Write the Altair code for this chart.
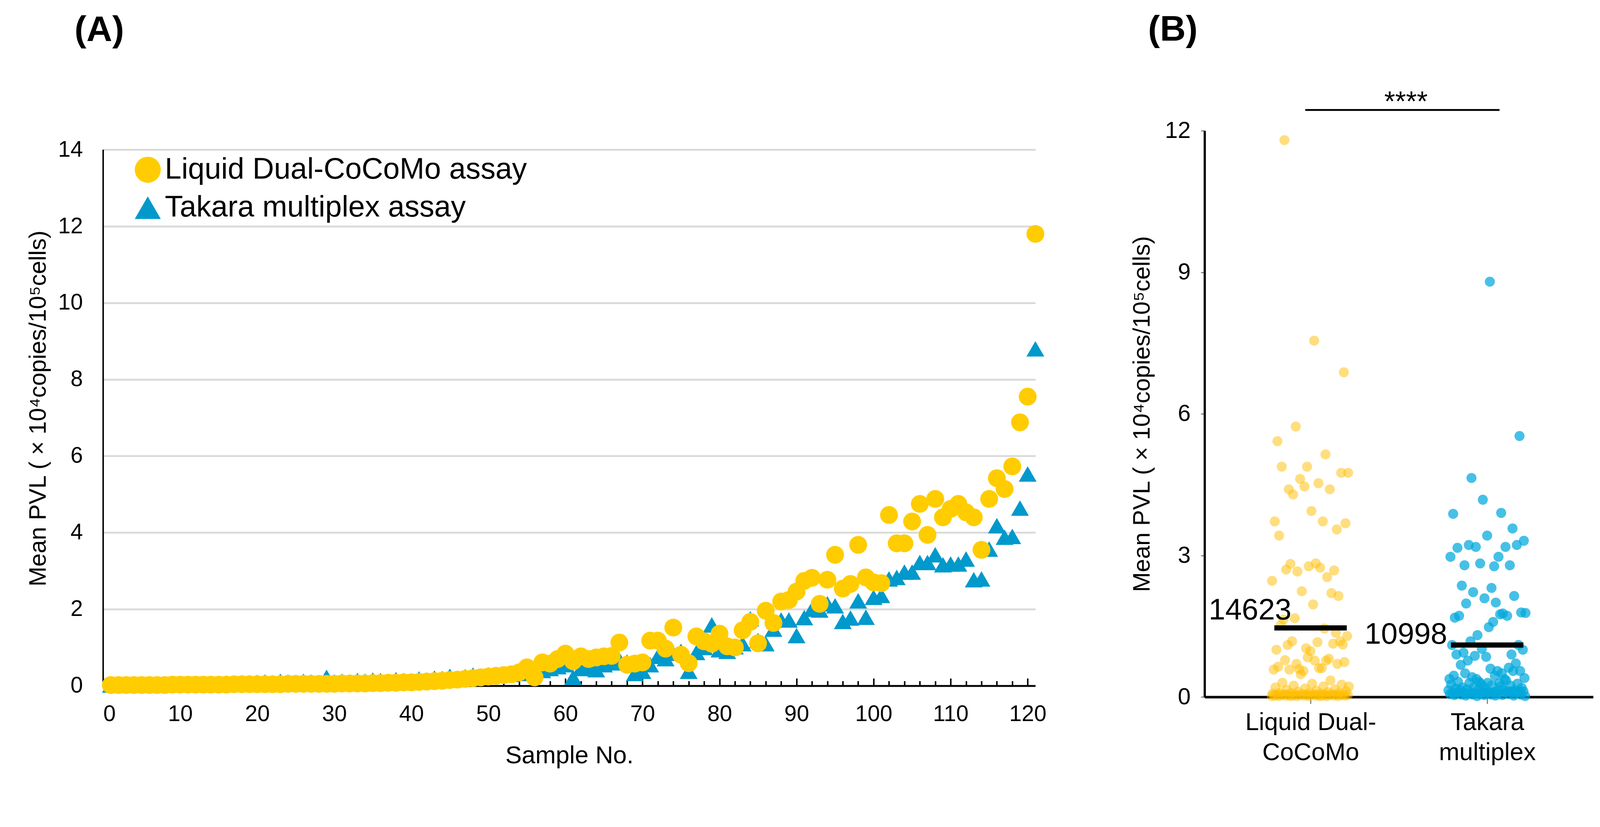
import json
import altair as alt
import pandas as pd

# ---------------- data ----------------
samples = list(range(1, 122))

liquid = [
    0.02, 0.02, 0.02, 0.02, 0.02, 0.02, 0.02, 0.02, 0.03, 0.03,
    0.03, 0.03, 0.03, 0.03, 0.03, 0.03, 0.04, 0.04, 0.04, 0.04,
    0.04, 0.04, 0.04, 0.05, 0.05, 0.05, 0.05, 0.05, 0.05, 0.05,
    0.06, 0.06, 0.06, 0.06, 0.07, 0.07, 0.08, 0.08, 0.09, 0.09,
    0.10, 0.11, 0.12, 0.13, 0.15, 0.16, 0.18, 0.20, 0.22, 0.24,
    0.26, 0.28, 0.30, 0.35, 0.48, 0.22, 0.61, 0.58, 0.70, 0.84,
    0.64, 0.77, 0.70, 0.74, 0.77, 0.78, 1.13, 0.55, 0.58, 0.61,
    1.18, 1.18, 0.97, 1.52, 0.81, 0.59, 1.29, 1.16, 1.10, 1.36,
    1.03, 1.00, 1.45, 1.67, 1.11, 1.96, 1.64, 2.20, 2.24, 2.46,
    2.74, 2.82, 2.14, 2.77, 3.42, 2.54, 2.66, 3.68, 2.83, 2.70,
    2.68, 4.46, 3.72, 3.72, 4.29, 4.75, 3.94, 4.88, 4.40, 4.62,
    4.75, 4.53, 4.40, 3.55, 4.88, 5.42, 5.14, 5.73, 6.88, 7.55, 11.8,
]

takara = [
    0.02, 0.02, 0.03, 0.03, 0.03, 0.04, 0.04, 0.04, 0.05, 0.05,
    0.05, 0.05, 0.06, 0.06, 0.06, 0.07, 0.07, 0.08, 0.08, 0.09,
    0.10, 0.08, 0.12, 0.10, 0.09, 0.12, 0.10, 0.08, 0.22, 0.10,
    0.12, 0.10, 0.14, 0.12, 0.15, 0.14, 0.12, 0.16, 0.14, 0.13,
    0.18, 0.15, 0.20, 0.19, 0.25, 0.20, 0.24, 0.28, 0.26, 0.29,
    0.30, 0.28, 0.30, 0.32, 0.35, 0.38, 0.40, 0.45, 0.50, 0.55,
    0.22, 0.45, 0.50, 0.42, 0.55, 0.60, 0.68, 0.62, 0.32, 0.38,
    0.55, 0.77, 0.71, 0.85, 0.90, 0.38, 0.87, 1.00, 1.59, 0.94,
    0.90, 1.02, 1.10, 1.75, 1.18, 1.10, 1.48, 1.72, 1.72, 1.31,
    1.78, 2.00, 1.98, 2.14, 2.09, 1.68, 1.77, 2.22, 1.79, 2.31,
    2.36, 2.79, 2.83, 2.97, 2.97, 3.22, 3.22, 3.42, 3.16, 3.18,
    3.18, 3.31, 2.77, 2.79, 3.57, 4.18, 3.88, 3.90, 4.64, 5.53, 8.8,
]

series_names = ["Liquid Dual-CoCoMo assay", "Takara multiplex assay"]
group_label_lines = [["Liquid Dual-", "CoCoMo"], ["Takara", "multiplex"]]
mean_values = [1.4623, 1.0998]
mean_labels = ["14623", "10998"]
sig_text = "****"
x_ticks_a = list(range(0, 121, 10))
x_minor_ticks_a = list(range(0, 122, 2))
y_ticks_a = list(range(0, 15, 2))
y_ticks_b = [0, 3, 6, 9, 12]
y_title = "Mean PVL ( \u00d7 10\u2074copies/10\u2075cells)"
x_title_a = "Sample No."

# ---------------- styling / layout ----------------
FONT = "Liberation Sans, Arial, Helvetica, sans-serif"
A_W = 2507
A_H14 = 1441          # pixel height of the 0..14 range
A_EXTRA = 51          # panel A starts a little lower than panel B
A_H = A_H14 + A_EXTRA
A_YMAX = 14 * A_H / A_H14
B_W, B_H = 1045, 1522
series_colors = ["#FFCC00", "#0099CC"]
strip_colors = ["#FFBE00", "#00A8DD"]

# ---------------- panel A ----------------
n = len(samples)
dfA = pd.DataFrame({
    "sample": samples + samples,
    "value": takara + liquid,
    "assay": [series_names[1]] * n + [series_names[0]] * n,
})

xscaleA = alt.Scale(domain=[0, 121], nice=False, zero=False)
yscaleA = alt.Scale(domain=[0, A_YMAX], nice=False, zero=False)

legendA = alt.Legend(
    title=None, orient="none", legendX=80, legendY=A_EXTRA + 14,
    symbolSize=4900, symbolStrokeWidth=0, labelFontSize=80, labelFont=FONT,
    labelColor="black", rowPadding=22, labelOffset=6, padding=0, labelLimit=3000,
)

pointsA = alt.Chart(dfA).mark_point(filled=True, opacity=1, size=2300, strokeWidth=0).encode(
    x=alt.X("sample:Q", scale=xscaleA, axis=alt.Axis(
        values=x_ticks_a, ticks=False, tickSize=0, labelFontSize=60, labelPadding=47,
        domainColor="black", domainWidth=5, grid=False, title=x_title_a,
        titleFontSize=66, titlePadding=50, titleFontWeight="normal")),
    y=alt.Y("value:Q", scale=yscaleA, axis=alt.Axis(
        values=y_ticks_a, format="d", grid=True, gridColor="#D9D9D9", gridWidth=5, ticks=False,
        tickSize=0, domain=False, labelFontSize=60, labelPadding=55,
        title=y_title, titleFontSize=64, titlePadding=20, titleFontWeight="normal")),
    color=alt.Color("assay:N", scale=alt.Scale(domain=series_names, range=series_colors), legend=legendA),
    shape=alt.Shape("assay:N", scale=alt.Scale(domain=series_names, range=["circle", "triangle-up"]), legend=legendA),
)

# vertical axis line from 0 to 14 (drawn through the scales)
axisLineA = alt.Chart(pd.DataFrame({"k": [0]})).mark_rule(color="black", strokeWidth=4).encode(
    x=alt.XDatum(0), y=alt.YDatum(0), y2=alt.Y2Datum(y_ticks_a[-1])
)

# inward minor/major tick marks along the bottom
ticksA = alt.Chart(dfA).mark_point(opacity=0, size=1).encode(
    x=alt.X("sample:Q", scale=xscaleA, axis=alt.Axis(
        orient="top", offset=-A_H, values=x_minor_ticks_a, labels=False,
        domain=False, grid=False, tickColor="black", tickWidth=4,
        tickSize={"condition": {"test": "datum.value % 10 === 0", "value": 20}, "value": 13},
        title=None)),
)

panelA = alt.layer(alt.layer(axisLineA, pointsA), ticksA).resolve_axis(x="independent").properties(
    width=A_W, height=A_H,
    title=alt.TitleParams("(A)", anchor="start", frame="group", dx=-77, fontSize=96,
                          fontWeight="bold", font=FONT, offset=125, baseline="bottom", color="black"),
)

# ---------------- panel B ----------------
dfB = pd.DataFrame({
    "grp": [0] * n + [1] * n,
    "value": liquid + takara,
    "idx": list(range(n)) * 2,
})
dfM = pd.DataFrame({"grp": [0, 1], "mean": mean_values, "label": mean_labels})
dfS = pd.DataFrame({"t": [sig_text]})

xscaleB = alt.Scale(domain=[-0.6, 1.6], nice=False, zero=False)
yscaleB = alt.Scale(domain=[0, 12], nice=False)

label_expr = ("datum.value == 0 ? " + json.dumps(group_label_lines[0]) +
              " : " + json.dumps(group_label_lines[1]))

pointsB = alt.Chart(dfB).transform_calculate(
    jit="((datum.idx * 0.6180339887 + datum.grp * 0.37) % 1 - 0.5) * 0.44",
    pos="datum.grp + datum.jit",
).mark_circle(size=729).encode(
    x=alt.X("pos:Q", scale=xscaleB, axis=alt.Axis(
        values=[0, 1], labelExpr=label_expr, ticks=True, tickSize=18, tickColor="#7F7F7F",
        tickWidth=3, labelFontSize=66, labelPadding=19, labelLineHeight=80, labelLimit=2000,
        domainColor="black", domainWidth=7, grid=False, title=None,
        labelAlign="center", labelBaseline="top")),
    y=alt.Y("value:Q", scale=yscaleB, axis=alt.Axis(
        values=y_ticks_b, format="d", ticks=True, tickSize=10, tickColor="#7F7F7F", tickWidth=3,
        labelFontSize=62, labelPadding=28, domainColor="black", domainWidth=6, grid=False,
        title=y_title, titleFontSize=64, titlePadding=28, titleFontWeight="normal")),
    color=alt.Color("grp:N", scale=alt.Scale(domain=[0, 1], range=strip_colors), legend=None),
    opacity=alt.Opacity("grp:N", scale=alt.Scale(domain=[0, 1], range=[0.5, 0.72]), legend=None),
)

meanRule = alt.Chart(dfM).transform_calculate(
    x1="datum.grp - 0.205", x2="datum.grp + 0.205"
).mark_rule(strokeWidth=14, color="black").encode(
    x=alt.X("x1:Q", scale=xscaleB), x2="x2:Q", y=alt.Y("mean:Q", scale=yscaleB)
)

lab0 = alt.Chart(dfM).transform_filter("datum.grp == 0").transform_calculate(
    x1="datum.grp - 0.205"
).mark_text(align="right", baseline="alphabetic", fontSize=80, dx=46, dy=-23, font=FONT, color="black").encode(
    x="x1:Q", y="mean:Q", text="label:N"
)
lab1 = alt.Chart(dfM).transform_filter("datum.grp == 1").transform_calculate(
    x1="datum.grp - 0.205"
).mark_text(align="right", baseline="alphabetic", fontSize=80, dx=-10, dy=-4, font=FONT, color="black").encode(
    x="x1:Q", y="mean:Q", text="label:N"
)

sigRule = alt.Chart(dfS).mark_rule(strokeWidth=5, color="black").encode(
    x=alt.datum(-0.03), x2=alt.datum(1.07), y=alt.datum(12.44)
)
sigText = alt.Chart(dfS).mark_text(fontSize=75, baseline="alphabetic", dy=3, font=FONT, color="black").encode(
    x=alt.datum(0.54), y=alt.datum(12.44), text="t:N"
)

panelB = alt.layer(pointsB, meanRule, lab0, lab1, sigRule, sigText).properties(
    width=B_W, height=B_H,
    title=alt.TitleParams("(B)", anchor="start", frame="group", dx=-152, fontSize=96,
                          fontWeight="bold", font=FONT, offset=13, baseline="bottom", color="black"),
)

chart = alt.hconcat(panelA, panelB, spacing=455, bounds="flush").resolve_scale(
    color="independent", opacity="independent", shape="independent"
).properties(
    padding={"left": 63, "top": -27, "right": 10, "bottom": 10},
    background="white",
).configure_view(stroke=None).configure_axis(
    labelFont=FONT, titleFont=FONT, labelColor="black", titleColor="black"
)

chart.save("out.html", embed_options={"renderer": "svg", "actions": False})
